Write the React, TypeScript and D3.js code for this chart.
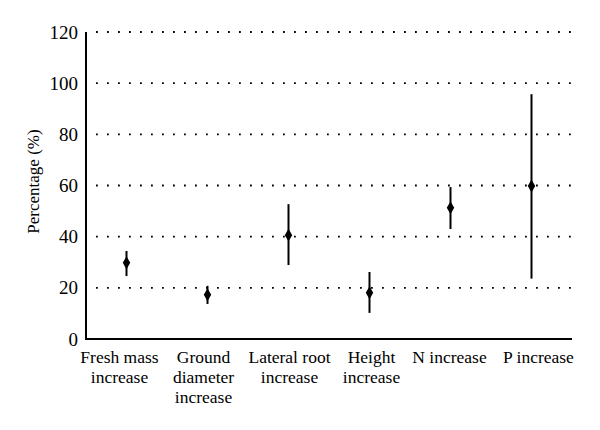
import React from "react";
import * as d3 from "d3";

const width = 600;
const height = 430;
const margin = { top: 32, right: 28, bottom: 91, left: 86 };

const categories = [
  ["Fresh mass", "increase"],
  ["Ground", "diameter", "increase"],
  ["Lateral root", "increase"],
  ["Height", "increase"],
  ["N increase"],
  ["P increase"],
];
const means = [29.8, 17.3, 40.6, 18.1, 51.3, 59.8];
const lows = [24.6, 13.7, 28.9, 10.2, 43.0, 23.6];
const highs = [34.4, 20.8, 52.7, 26.2, 59.4, 95.7];
const yTicks = [0, 20, 40, 60, 80, 100, 120];

// small nudges so the wrapped labels sit like the original
const labelNudge = [-7, -4, 1, 2, -1, 7];

const font = "'Liberation Serif', 'DejaVu Serif', serif";

export default function App() {
  const keys = categories.map((c) => c.join(" "));
  const x = d3
    .scaleBand()
    .domain(keys)
    .range([margin.left, width - margin.right]);
  const y = d3
    .scaleLinear()
    .domain([0, 120])
    .range([height - margin.bottom, margin.top]);

  const cx = (i) => x(keys[i]) + x.bandwidth() / 2;
  const diamond = d3.symbol().type(d3.symbolDiamond).size(48);

  return (
    <svg width={width} height={height} style={{ display: "block", margin: -8 }}>
      <rect width={width} height={height} fill="#fff" />
      {yTicks
        .filter((t) => t > 0)
        .map((t) => (
          <line
            key={t}
            x1={margin.left + 10}
            x2={width - margin.right}
            y1={y(t)}
            y2={y(t)}
            stroke="#000"
            strokeWidth={1.8}
            strokeDasharray="1.8 9.2"
          />
        ))}
      {yTicks.map((t) => (
        <text
          key={t}
          x={margin.left - 8}
          y={y(t)}
          dy="0.35em"
          textAnchor="end"
          fontFamily={font}
          fontSize={19}
        >
          {t}
        </text>
      ))}
      <line
        x1={margin.left}
        x2={margin.left}
        y1={y(120)}
        y2={y(0) + 1}
        stroke="#000"
        strokeWidth={2}
      />
      <line
        x1={margin.left}
        x2={width - margin.right}
        y1={y(0)}
        y2={y(0)}
        stroke="#000"
        strokeWidth={2}
      />
      {means.map((m, i) => (
        <g key={i}>
          <line
            x1={cx(i)}
            x2={cx(i)}
            y1={y(lows[i])}
            y2={y(highs[i])}
            stroke="#000"
            strokeWidth={2}
          />
          <path
            d={diamond()}
            transform={`translate(${cx(i)},${y(m)})`}
            fill="#000"
          />
        </g>
      ))}
      {categories.map((lines, i) =>
        lines.map((l, j) => (
          <text
            key={`${i}-${j}`}
            x={cx(i) + labelNudge[i]}
            y={y(0) + 24 + j * 20}
            textAnchor="middle"
            fontFamily={font}
            fontSize={17.5}
          >
            {l}
          </text>
        ))
      )}
      <text
        transform={`translate(39, ${(y(0) + y(120)) / 2 - 4}) rotate(-90)`}
        textAnchor="middle"
        fontFamily={font}
        fontSize={17}
      >
        Percentage (%)
      </text>
    </svg>
  );
}
